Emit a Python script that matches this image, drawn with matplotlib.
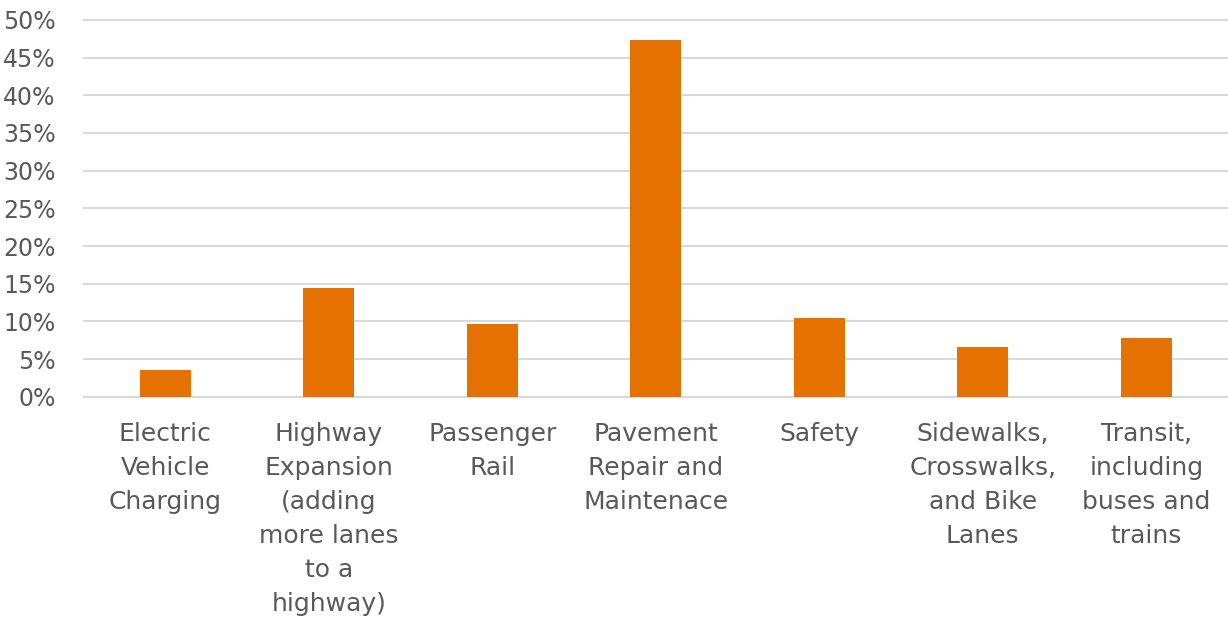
import numpy as np
import matplotlib.pyplot as plt
from matplotlib.ticker import PercentFormatter

# kategorie i wartosci
categories = ["Electric\nVehicle\nCharging",
              "Highway\nExpansion\n(adding\nmore lanes\nto a\nhighway)",
              "Passenger\nRail",
              "Pavement\nRepair and\nMaintenace",
              "Safety",
              "Sidewalks,\nCrosswalks,\nand Bike\nLanes",
              "Transit,\nincluding\nbuses and\ntrains"]
values = [3.5, 14.4, 9.6, 47.3, 10.4, 6.6, 7.8]
yticks = [0, 5, 10, 15, 20, 25, 30, 35, 40, 45, 50]

sizee = 18
kolor_txt = '#595959'

fig = plt.figure(figsize=(12.28, 6.2), dpi=100)
ax = fig.add_axes([0.068, 0.36, 0.932, 0.608])

x = np.arange(len(categories))
ax.bar(x, values, width=0.31, color='#E57200', zorder=3)

ax.set_ylim(0, 50)
ax.set_xlim(-0.5, len(categories) - 0.5)
ax.set_yticks(yticks)
ax.yaxis.set_major_formatter(PercentFormatter(decimals=0))
ax.set_xticks(x)
ax.set_xticklabels(categories, linespacing=1.53)
ax.grid(axis='y', color='#d9d9d9', linewidth=1.5, zorder=0)
for gl in ax.get_ygridlines():
    gl.set_clip_on(False)
for s in ['top', 'right', 'left']:
    ax.spines[s].set_visible(False)
ax.spines['bottom'].set_color('#d9d9d9')
ax.spines['bottom'].set_linewidth(1.5)
ax.tick_params(axis='both', length=0, labelcolor=kolor_txt)
ax.tick_params(axis='x', pad=18, labelsize=sizee)
ax.tick_params(axis='y', pad=20, labelsize=17)

fig.savefig('out.png', dpi=100)
